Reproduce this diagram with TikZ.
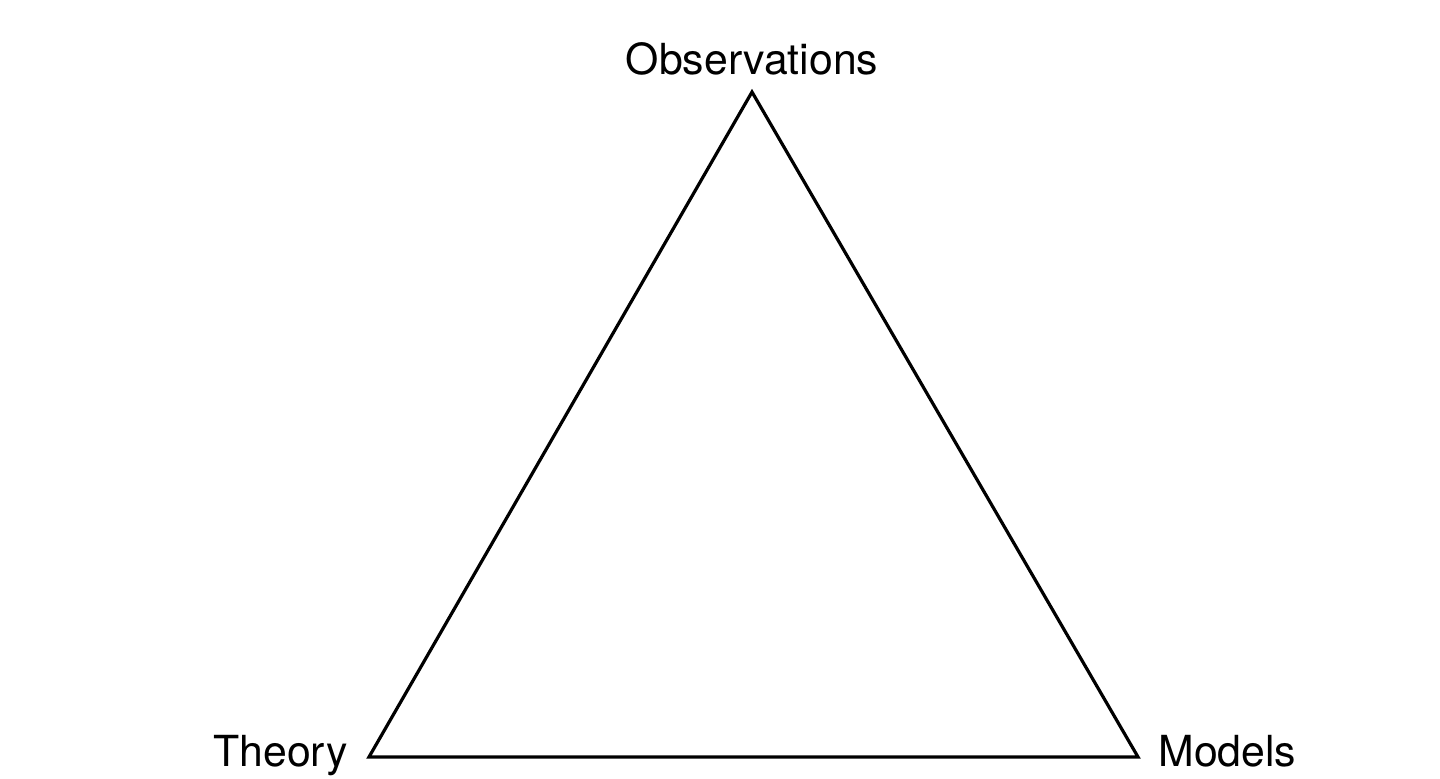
\documentclass[tikz,border=0pt]{standalone}
\usepackage{fontspec}
\setmainfont{TeX Gyre Heros}
\usetikzlibrary{positioning}

\begin{document}
\begin{tikzpicture}[
  x=1pt, y=1pt,
  corner/.style = {font=\fontsize{21.4pt}{25pt}\selectfont, inner sep=0pt},
  edge/.style = {line width=1.6pt, line join=miter}
]
\useasboundingbox (0,0) rectangle (720,389.5);

% ======================================================
% Triangle corners
% ======================================================
\coordinate (obs) at (376,343.5);
\coordinate (theo) at (184.5,11);
\coordinate (mod) at (569,11);

% Labels at the corners
\node[corner, anchor=base] (obslabel) at (376,352) {Observations};
\node[corner, anchor=base east] (theolabel) at (174,6) {Theory};
\node[corner, anchor=base west] (modlabel) at (579,6) {Models};

% ======================================================
% Triangle
% ======================================================
\draw[edge] (obs) -- (mod) -- (theo) -- cycle;
\end{tikzpicture}
\end{document}
